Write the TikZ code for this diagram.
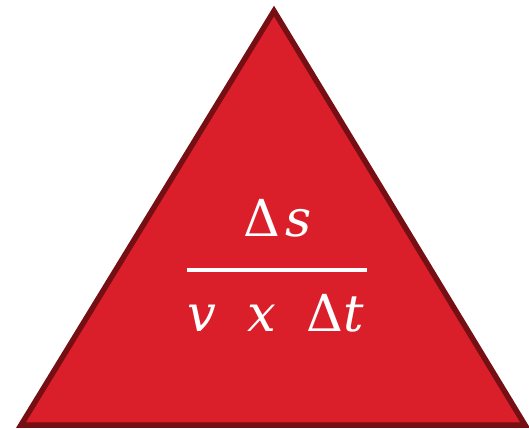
\documentclass[tikz,border=0pt]{standalone}
\usepackage{fontspec}
\newfontfamily\formfont{DejaVu Serif}
\definecolor{trifill}{RGB}{218,31,43}
\definecolor{triedge}{RGB}{118,15,20}
\tikzset{
  tri/.style={fill=trifill, draw=triedge, line width=5.5pt, line join=miter},
  formula/.style={text=white, inner sep=0pt, anchor=base, font=\formfont\fontsize{51}{56}\selectfont},
  fracbar/.style={draw=white, line width=3.5pt}
}
\begin{document}
\begin{tikzpicture}[x=1pt,y=1pt]
\useasboundingbox (0,0) rectangle (529,428);
\coordinate (apex) at (274,417);
\coordinate (bl) at (21,3);
\coordinate (br) at (525,3);
\path[tri] (apex) -- (br) -- (bl) -- cycle;
\node[formula] (num) at (278,191) {Δ\hspace{0.1em}\textit{s}};
\coordinate (barL) at (187,158);
\coordinate (barR) at (367,158);
\draw[fracbar] (barL) -- (barR);
\node[formula] (den) at (276,96) {\textit{v}\hspace{0.6em}\textit{x}\hspace{0.6em}Δ\textit{t}};
\end{tikzpicture}
\end{document}
